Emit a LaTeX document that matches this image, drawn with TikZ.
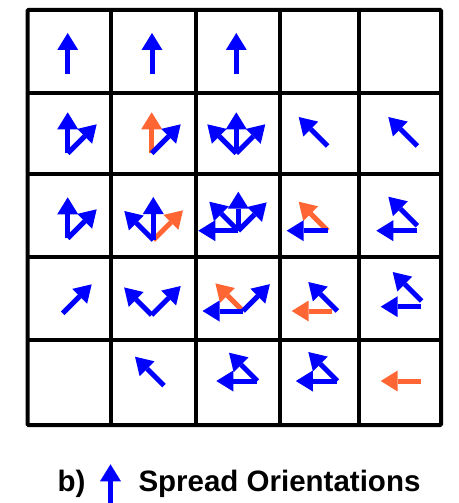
\documentclass[tikz,border=0pt]{standalone}
\usepackage{fontspec}
\setmainfont{Liberation Sans}
\usepackage{xcolor}
\definecolor{Col1}{RGB}{0,0,255}
\definecolor{Col2}{RGB}{255,102,51}
\usepackage{tikz}
\usetikzlibrary{arrows.meta}
\tikzstyle{Grid}=[draw=black,line width=4pt,line cap=rect]
\tikzstyle{Arrow}=[line width=5pt,-{Triangle[length=17pt,width=21pt,line width=0pt]}]
\tikzstyle{ArrowB}=[Arrow,draw=Col1]
\tikzstyle{ArrowO}=[Arrow,draw=Col2]
\tikzstyle{Label}=[font=\fontsize{29.5}{34}\selectfont\bfseries,inner sep=0pt,
anchor=base west]

\begin{document}
\begin{tikzpicture}[x=1pt,y=1pt]
    \useasboundingbox(0,0)rectangle(458,-503);
    % grid
    \foreach \x in {111,196,280,358.5}
        \draw[Grid](\x,-10)--(\x,-425);
    \foreach \y in {93,174,257,339.5}
        \draw[Grid](27.5,-\y)--(441,-\y);
    \draw[Grid,rounded corners=1pt](27.5,-10)rectangle(441,-425);
    % origins
    \coordinate(11)at(67.7,-74);
    \coordinate(12)at(152,-74);
    \coordinate(13)at(236.3,-74);
    \coordinate(21)at(67.7,-153.3);
    \coordinate(22)at(151.7,-153.3);
    \coordinate(23)at(236.3,-153.3);
    \coordinate(24)at(327.7,-146);
    \coordinate(25)at(417.3,-146);
    \coordinate(31)at(67.7,-238.3);
    \coordinate(32)at(153.3,-240);
    \coordinate(33)at(238.3,-230.7);
    \coordinate(34)at(327.7,-230.7);
    \coordinate(35)at(417.3,-230.7);
    \coordinate(35b)at(417.3,-225.7);
    \coordinate(41)at(62.7,-313.3);
    \coordinate(42)at(151.7,-315);
    \coordinate(43)at(243,-311);
    \coordinate(44)at(331.7,-311);
    \coordinate(44b)at(337.3,-311);
    \coordinate(45)at(421,-306.7);
    \coordinate(45b)at(421.7,-301);
    \coordinate(52)at(164,-385.7);
    \coordinate(53)at(257.3,-381);
    \coordinate(54)at(337.3,-381);
    \coordinate(55)at(421,-381);
    % orientations
    \draw[ArrowB](11)--++(90:41);
    \draw[ArrowB](12)--++(90:41);
    \draw[ArrowB](13)--++(90:41);
    \draw[ArrowB](21)--++(90:41);
    \draw[ArrowB](21)--++(45:41);
    \draw[ArrowO](22)--++(90:41);
    \draw[ArrowB](22)--++(45:41);
    \draw[ArrowB](23)--++(90:41);
    \draw[ArrowB](23)--++(45:41);
    \draw[ArrowB](23)--++(135:41);
    \draw[ArrowB](24)--++(135:41);
    \draw[ArrowB](25)--++(135:41);
    \draw[ArrowB](31)--++(90:41);
    \draw[ArrowB](31)--++(45:41);
    \draw[ArrowO](32)--++(45:42);
    \draw[ArrowB](32)--++(90:43);
    \draw[ArrowB](32)--++(135:41);
    \draw[ArrowB](33)--++(90:39);
    \draw[ArrowB](33)--++(45:40);
    \draw[ArrowB](33)--++(135:41);
    \draw[ArrowB](33)--++(180:40);
    \draw[ArrowO](34)--++(135:41);
    \draw[ArrowB](34)--++(180:41);
    \draw[ArrowB](35)--++(180:41);
    \draw[ArrowB](35b)--++(135:41);
    \draw[ArrowB](41)--++(45:41);
    \draw[ArrowB](42)--++(45:41);
    \draw[ArrowB](42)--++(135:39);
    \draw[ArrowO](43)--++(135:39);
    \draw[ArrowB](43)--++(180:40.5);
    \draw[ArrowB](43)--++(45:38);
    \draw[ArrowB](44b)--++(135:41);
    \draw[ArrowO](44)--++(180:40);
    \draw[ArrowB](45)--++(180:40.3);
    \draw[ArrowB](45b)--++(135:41);
    \draw[ArrowB](52)--++(135:41);
    \draw[ArrowB](53)--++(180:41);
    \draw[ArrowB](53)--++(135:40);
    \draw[ArrowB](54)--++(180:41.5);
    \draw[ArrowB](54)--++(135:41);
    \draw[ArrowO](55)--++(180:40.3);
    % caption
    \node[Label](b)at(57.3,-491.7){b)};
    \coordinate(k)at(110.5,-505);
    \draw[ArrowB](k)--++(90:40.7);
    \node[Label](t)at(138.3,-491.7){Spread Orientations};
\end{tikzpicture}
\end{document}
